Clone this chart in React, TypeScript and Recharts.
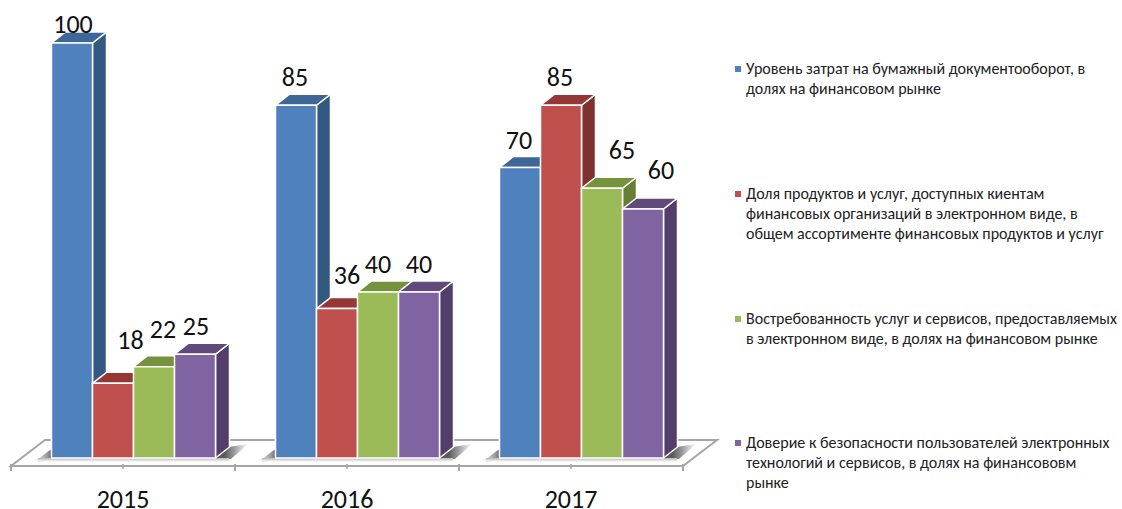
import { Bar, BarChart, LabelList, Legend, XAxis, YAxis, usePlotArea } from "recharts"

const years = ["2015", "2016", "2017"]
const paperCosts = [100, 85, 70]
const digitalProducts = [18, 36, 85]
const serviceDemand = [22, 40, 65]
const securityTrust = [25, 40, 60]

const legendLines = [
  ["Уровень затрат на бумажный документооборот, в", "долях на финансовом рынке"],
  ["Доля продуктов и услуг, доступных киентам", "финансовых организаций в электронном виде, в", "общем ассортименте финансовых продуктов и услуг"],
  ["Востребованность услуг и сервисов, предоставляемых", "в электронном виде, в долях на финансовом рынке"],
  ["Доверие к безопасности пользователей электронных", "технологий и сервисов, в долях на финансововм", "рынке"],
]
const legendTops = [59, 184, 309, 433]

const chartData = years.map((year, i) => ({
  year,
  paperCosts: paperCosts[i],
  digitalProducts: digitalProducts[i],
  serviceDemand: serviceDemand[i],
  securityTrust: securityTrust[i],
}))

const WIDTH = 1122
const HEIGHT = 509
const FONT = "Carlito, Lato, 'Open Sans', sans-serif"
const MARGIN = { top: 43, right: 439, bottom: 0, left: 11 }
const BAND = (WIDTH - MARGIN.left - MARGIN.right) / years.length
// 3d look: bars sit deeper in the floor than the front axis line
const BAR_SHIFT = 9.5
const LABEL_SHIFT = 10.5
const DEPTH_X = 14
const DEPTH_Y = 11
const AXIS_GREY = "#a6a6a6"

// nudge = [dx from bar centre, height of label centre above the bar], one per year
const SERIES = [
  { key: "paperCosts", fill: "#4f81bd", top: "#3e6797", side: "#345981", nudge: [[0, 19], [-2, 28], [-2, 27]] },
  { key: "digitalProducts", fill: "#c0504d", top: "#953735", side: "#7f312f", nudge: [[16.5, 43], [9, 33.5], [-2, 28]] },
  { key: "serviceDemand", fill: "#9bbb59", top: "#76923c", side: "#667f35", nudge: [[8, 38], [-1, 27.5], [19, 38]] },
  { key: "securityTrust", fill: "#8064a2", top: "#604a7b", side: "#523e6b", nudge: [[0, 28.5], [-1, 27.5], [17, 38.5]] },
]

function Box3D({ x, y, width, height, fill, top, side }: any) {
  const l = x + BAR_SHIFT
  const r = l + width
  const b = y + height
  return (
    <g stroke="#fff" strokeWidth={1.5} strokeLinejoin="round">
      <polygon points={`${r},${y} ${r + DEPTH_X},${y - DEPTH_Y} ${r + DEPTH_X},${b - DEPTH_Y} ${r},${b}`} fill={side} />
      <polygon points={`${l},${y} ${l + DEPTH_X},${y - DEPTH_Y} ${r + DEPTH_X},${y - DEPTH_Y} ${r},${y}`} fill={top} />
      <rect x={l} y={y} width={width} height={height} fill={fill} />
    </g>
  )
}

function Floor() {
  const plot = usePlotArea()
  if (!plot) return null
  const left = plot.x
  const right = plot.x + plot.width
  const front = plot.y + plot.height
  const back = front - 26
  const base = front - 8
  return (
    <g>
      <defs>
        <linearGradient id="shadowRight" x1="0" x2="1" y1="0" y2="0">
          <stop offset="0.3" stopColor="#5a5a5a" />
          <stop offset="1" stopColor="#fff" />
        </linearGradient>
        <linearGradient id="shadowLeft" x1="1" x2="0" y1="0" y2="0">
          <stop offset="0" stopColor="#666" />
          <stop offset="1" stopColor="#fff" />
        </linearGradient>
        <linearGradient id="shadowFront" x1="0" x2="0" y1="0" y2="1">
          <stop offset="0" stopColor="#b5b5b5" />
          <stop offset="1" stopColor="#fff" />
        </linearGradient>
      </defs>
      <polygon
        points={`${left},${front} ${left + 34},${back} ${right + 34},${back} ${right},${front}`}
        fill="#fff"
        stroke={AXIS_GREY}
        strokeWidth={2}
      />
      {years.map((year, i) => {
        const l = left + i * BAND + 41
        const r = l + 163
        return (
          <g key={year}>
            <polygon points={`${l - 17},${base + 3} ${l + 1},${base + 1} ${l + 1},${base - 10} ${l - 2},${base - 8}`} fill="url(#shadowLeft)" />
            <polygon
              points={`${r},${base} ${r + DEPTH_X},${base - DEPTH_Y} ${r + 33},${base - 14} ${r + 16},${base + 1}`}
              fill="url(#shadowRight)"
            />
            <rect x={l - 14} y={base} width={r - l + 28} height={4} fill="url(#shadowFront)" />
          </g>
        )
      })}
    </g>
  )
}

function YearTick({ x, y, payload }: any) {
  const axisY = y - 8
  return (
    <g>
      <line x1={x} x2={x} y1={axisY} y2={axisY + 5} stroke={AXIS_GREY} strokeWidth={1.5} />
      <line x1={x - BAND / 2} x2={x - BAND / 2} y1={axisY} y2={axisY + 7} stroke={AXIS_GREY} strokeWidth={2} />
      <line x1={x + BAND / 2} x2={x + BAND / 2} y1={axisY} y2={axisY + 7} stroke={AXIS_GREY} strokeWidth={2} />
      <text x={x} y={499} textAnchor="middle" dominantBaseline="central" fontSize={26} fontFamily={FONT} fill="#111">
        {payload.value}
      </text>
    </g>
  )
}

function ValueLabel({ x, y, width, value, index, nudge }: any) {
  const [dx, above] = nudge[index]
  return (
    <text
      x={x + width / 2 + LABEL_SHIFT + dx}
      y={y - above}
      textAnchor="middle"
      dominantBaseline="central"
      fontSize={26}
      fontFamily={FONT}
      fill="#111"
    >
      {value}
    </text>
  )
}

function SideLegend() {
  return (
    <div style={{ position: "relative", width: WIDTH, height: HEIGHT, fontFamily: FONT, fontSize: 16, color: "#222" }}>
      {SERIES.map((s, i) => (
        <div key={s.key} style={{ position: "absolute", left: 746, top: legendTops[i], lineHeight: "20px", whiteSpace: "nowrap" }}>
          <span style={{ position: "absolute", left: -11, top: 7, width: 6, height: 6, background: s.fill }} />
          {legendLines[i].map((line) => (
            <div key={line}>{line}</div>
          ))}
        </div>
      ))}
    </div>
  )
}

export default function App() {
  return (
    <div style={{ position: "absolute", left: 0, top: 0, background: "#fff" }}>
      <BarChart width={WIDTH} height={HEIGHT} data={chartData} margin={MARGIN} barGap={0} barCategoryGap={31}>
        <Floor />
        <XAxis
          dataKey="year"
          height={43}
          tickLine={false}
          tickMargin={0}
          axisLine={{ stroke: AXIS_GREY, strokeWidth: 2 }}
          tick={(props: any) => <YearTick {...props} />}
        />
        <YAxis hide type="number" domain={[-1.93, 100]} />
        <Legend
          layout="horizontal"
          align="center"
          verticalAlign="middle"
          wrapperStyle={{ left: 0, top: 0, width: WIDTH, height: HEIGHT, pointerEvents: "none" }}
          content={() => <SideLegend />}
        />
        {SERIES.map((s) => (
          <Bar
            key={s.key}
            dataKey={s.key}
            fill={s.fill}
            isAnimationActive={false}
            shape={(props: any) => <Box3D {...props} top={s.top} side={s.side} />}
          >
            <LabelList dataKey={s.key} content={(props: any) => <ValueLabel {...props} nudge={s.nudge} />} />
          </Bar>
        ))}
      </BarChart>
    </div>
  )
}
